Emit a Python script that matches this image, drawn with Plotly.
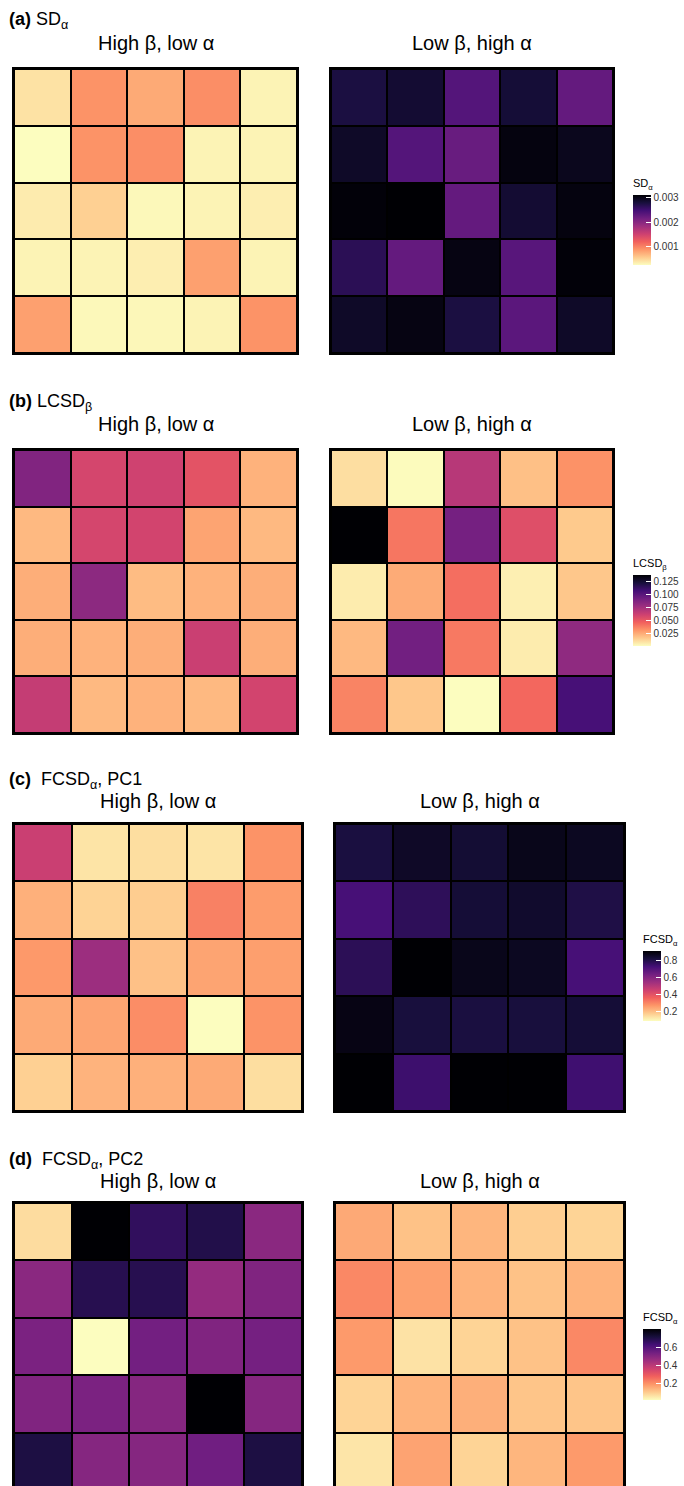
import plotly.graph_objects as go

W, H = 684, 1486

# ---------------- data (rows top -> bottom) ----------------
sd_high = [
    [0.00043, 0.00091, 0.00077, 0.00094, 0.00032],
    [0.00026, 0.00091, 0.00094, 0.00032, 0.00032],
    [0.00037, 0.00054, 0.00029, 0.00032, 0.00035],
    [0.00032, 0.00032, 0.00035, 0.00083, 0.00032],
    [0.00083, 0.00029, 0.00030, 0.00032, 0.00091],
]
sd_low = [
    [0.00276, 0.00284, 0.00236, 0.00282, 0.00225],
    [0.00290, 0.00236, 0.00222, 0.00304, 0.00296],
    [0.00307, 0.00310, 0.00225, 0.00284, 0.00304],
    [0.00265, 0.00225, 0.00302, 0.00233, 0.00307],
    [0.00290, 0.00302, 0.00276, 0.00231, 0.00290],
]
lcsd_high = [
    [0.086, 0.058, 0.060, 0.052, 0.023],
    [0.021, 0.058, 0.059, 0.027, 0.021],
    [0.024, 0.082, 0.020, 0.023, 0.024],
    [0.024, 0.023, 0.024, 0.062, 0.024],
    [0.064, 0.021, 0.023, 0.021, 0.059],
]
lcsd_low = [
    [0.010, 0.0017, 0.068, 0.019, 0.032],
    [0.136, 0.040, 0.090, 0.054, 0.016],
    [0.006, 0.025, 0.042, 0.005, 0.017],
    [0.021, 0.091, 0.039, 0.006, 0.081],
    [0.036, 0.017, 0.001, 0.044, 0.105],
]
fc1_high = [
    [0.46, 0.14, 0.15, 0.14, 0.28],
    [0.23, 0.17, 0.18, 0.31, 0.265],
    [0.27, 0.55, 0.20, 0.25, 0.26],
    [0.24, 0.25, 0.29, 0.095, 0.28],
    [0.175, 0.225, 0.23, 0.24, 0.15],
]
fc1_low = [
    [0.81, 0.85, 0.83, 0.87, 0.86],
    [0.72, 0.77, 0.825, 0.84, 0.80],
    [0.775, 0.905, 0.87, 0.86, 0.72],
    [0.88, 0.815, 0.81, 0.815, 0.825],
    [0.905, 0.74, 0.905, 0.905, 0.735],
]
fc2_high = [
    [0.075, 0.795, 0.66, 0.69, 0.49],
    [0.49, 0.68, 0.68, 0.47, 0.51],
    [0.52, 0.02, 0.535, 0.51, 0.53],
    [0.51, 0.52, 0.50, 0.795, 0.50],
    [0.70, 0.50, 0.50, 0.54, 0.70],
]
fc2_low = [
    [0.16, 0.12, 0.14, 0.10, 0.09],
    [0.215, 0.175, 0.145, 0.12, 0.145],
    [0.185, 0.065, 0.09, 0.12, 0.215],
    [0.09, 0.145, 0.15, 0.115, 0.115],
    [0.06, 0.17, 0.09, 0.14, 0.185],
]

panel_labels = ["<b>(a)</b> SD<sub>α</sub>",
                "<b>(b)</b> LCSD<sub>β</sub>",
                "<b>(c)</b>\u00a0\u00a0FCSD<sub>α</sub>, PC1",
                "<b>(d)</b>\u00a0\u00a0FCSD<sub>α</sub>, PC2"]
sub_titles = ["High β, low α", "Low β, high α"]
cbar_titles = ["SD<sub>α</sub>", "LCSD<sub>β</sub>", "FCSD<sub>α</sub>", "FCSD<sub>α</sub>"]
cbar_dtick = [0.001, 0.025, 0.2, 0.2]
cbar_fmt = [".3f", ".3f", ".1f", ".1f"]
data = [(sd_high, sd_low), (lcsd_high, lcsd_low), (fc1_high, fc1_low), (fc2_high, fc2_low)]

# ---------------- geometry (pixels) ----------------
geo = [
    dict(lx=(14, 297), rx=(331, 613), y=(69, 353), cx=633, cy=(176, 265), lab=21, tit=43),
    dict(lx=(14, 297), rx=(331, 613), y=(450, 733), cx=633, cy=(556, 646), lab=402, tit=424),
    dict(lx=(14, 302), rx=(335, 624), y=(824, 1111), cx=643, cy=(932, 1021), lab=780, tit=801),
    dict(lx=(14, 302), rx=(335, 624), y=(1203, 1490), cx=643, cy=(1310, 1400), lab=1160, tit=1181),
]

magma = ['#000004', '#180f3d', '#440f76', '#721f81', '#9e2f7f',
         '#cd4071', '#f1605d', '#fd9668', '#feca8d', '#fcfdbf']
scale = [[i / (len(magma) - 1), c] for i, c in enumerate(reversed(magma))]

FONT = "Liberation Sans, Arial, Helvetica, sans-serif"

fig = go.Figure()
layout = dict(width=W, height=H, margin=dict(l=0, r=0, t=0, b=0, autoexpand=False),
              paper_bgcolor="white", plot_bgcolor="black",
              font=dict(family=FONT, color="black"), showlegend=False,
              annotations=[])

def px_x(p):
    return p / W

def px_y(p):
    return 1 - p / H

ax = 0
for pi, (g, (zl, zr)) in enumerate(zip(geo, data)):
    ca = "coloraxis" if pi == 0 else f"coloraxis{pi+1}"
    top, bot = g["y"]
    row_h = (bot - top) / 5.0
    vis_bot = min(bot, H)
    y_hi = -0.5 + (vis_bot - top) / row_h
    for side, (xr, z) in enumerate([(g["lx"], zl), (g["rx"], zr)]):
        ax += 1
        xn = "x" if ax == 1 else f"x{ax}"
        yn = "y" if ax == 1 else f"y{ax}"
        fig.add_trace(go.Heatmap(z=z, x=list(range(5)), y=list(range(5)),
                                 coloraxis=ca, xgap=2, ygap=2,
                                 xaxis=xn, yaxis=yn, hoverinfo="skip"))
        xk = "xaxis" if ax == 1 else f"xaxis{ax}"
        yk = "yaxis" if ax == 1 else f"yaxis{ax}"
        layout[xk] = dict(domain=[px_x(xr[0]), px_x(xr[1])], range=[-0.5, 4.5],
                          showticklabels=False, ticks="", showgrid=False, zeroline=False,
                          showline=True, mirror=True, linecolor="black", linewidth=2,
                          anchor=yn, fixedrange=True)
        layout[yk] = dict(domain=[px_y(vis_bot), px_y(top)], range=[y_hi, -0.5],
                          showticklabels=False, ticks="", showgrid=False, zeroline=False,
                          showline=True, mirror=True, linecolor="black", linewidth=2,
                          anchor=xn, fixedrange=True)
        layout["annotations"].append(dict(
            text=sub_titles[side], x=px_x((xr[0] + xr[1]) / 2), y=px_y(g["tit"]),
            xref="paper", yref="paper", xanchor="center", yanchor="middle",
            showarrow=False, font=dict(size=20, family=FONT)))
    layout["annotations"].append(dict(
        text=panel_labels[pi], x=px_x(7), y=px_y(g["lab"]),
        xref="paper", yref="paper", xanchor="left", yanchor="middle",
        showarrow=False, font=dict(size=18, family=FONT)))
    cy0, cy1 = g["cy"]
    layout[ca] = dict(
        colorscale=scale,
        colorbar=dict(
            x=px_x(g["cx"]), xanchor="left", xpad=0, ypad=0,
            y=px_y((cy0 + cy1) / 2), yanchor="middle",
            len=cy1 - cy0, lenmode="pixels", thickness=18, thicknessmode="pixels",
            outlinewidth=0, ticks="inside", tickcolor="white", ticklen=5,
            dtick=cbar_dtick[pi], tickformat=cbar_fmt[pi],
            tickfont=dict(size=10, family=FONT, color="#333333"),
            title=dict(text=cbar_titles[pi], side="top",
                       font=dict(size=11, family=FONT, color="black")),
        ))

fig.update_layout(**layout)
fig.write_html("out.html", config={"displayModeBar": False},
               post_script="document.body.style.margin='0';document.body.style.padding='0';")
